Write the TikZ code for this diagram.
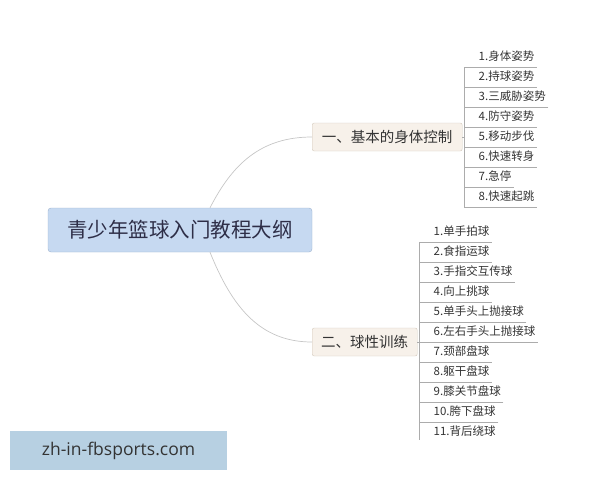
\documentclass[tikz,border=0pt]{standalone}
\usepackage{fontspec}
\setmainfont{Noto Sans CJK SC}
\newfontfamily\wmfont{Open Sans}
\usepackage{xcolor}
\usetikzlibrary{positioning,calc}

\definecolor{rootfill}{HTML}{C6D9F1}
\definecolor{rootline}{HTML}{9DB2CE}
\definecolor{subfill}{HTML}{F7F1EA}
\definecolor{subline}{HTML}{D3C9BC}
\definecolor{wmfill}{HTML}{B7D0E2}
\definecolor{txt}{HTML}{333333}

\tikzset{
    rootbox/.style={draw=rootline, fill=rootfill, rounded corners=3pt, text=txt!90!blue,
        font=\fontsize{20.5}{24}\selectfont, minimum width=264pt, minimum height=44pt},
    subbox/.style={draw=subline, fill=subfill, rounded corners=2pt, text=txt,
        font=\fontsize{14.5}{17}\selectfont, inner xsep=8pt, minimum height=28pt, anchor=west},
    leaf/.style={anchor=south west, inner xsep=2.5pt, inner ysep=4.5pt, text=txt,
        text height=9pt, text depth=2pt, font=\fontsize{11.5}{13}\selectfont},
    uline/.style={draw=gray!65, line width=0.8pt},
    curve/.style={draw=gray!45, line width=0.7pt}
}

\begin{document}
\begin{tikzpicture}[x=1pt,y=-1pt]
    \useasboundingbox (0,0) rectangle (600,480);

    % Main topic
    \node[rootbox] (root) at (180,230) {青少年篮球入门教程大纲};

    % Sub topics
    \node[subbox, minimum width=150pt] (b1) at (312,137) {一、基本的身体控制};
    \node[subbox, minimum width=105pt] (b2) at (312,342) {二、球性训练};

    % Curves from main topic
    \draw[curve] ([xshift=30pt]root.north) .. controls (232,165) and (260,137) .. (b1.west);
    \draw[curve] ([xshift=30pt]root.south) .. controls (232,307) and (260,342) .. (b2.west);

    % Leaves of branch 1
    \coordinate (ta) at (464,67);
    \foreach \t [count=\i] in {1.身体姿势, 2.持球姿势, 3.三威胁姿势, 4.防守姿势,
                               5.移动步伐, 6.快速转身, 7.急停, 8.快速起跳} {
        \node[leaf] (a\i) at (476,{47+20*\i}) {\t};
        \draw[uline] (a\i.south east) -- (a\i.south east -| ta);
    }
    \draw[uline] (ta) -- (a8.south east -| ta);
    \draw[uline] (b1.east) -- (b1.east -| ta);

    % Leaves of branch 2
    \coordinate (tb) at (419,242);
    \coordinate (tbend) at (419,440);
    \foreach \t [count=\i] in {1.单手拍球, 2.食指运球, 3.手指交互传球, 4.向上挑球,
                               5.单手头上抛接球, 6.左右手头上抛接球, 7.颈部盘球,
                               8.躯干盘球, 9.膝关节盘球, 10.胯下盘球} {
        \node[leaf] (c\i) at (431,{222+20*\i}) {\t};
        \draw[uline] (c\i.south east) -- (c\i.south east -| tb);
    }
    \node[leaf] (c11) at (431,442) {11.背后绕球};
    \draw[uline] (tb) -- (tbend);
    \draw[uline] (b2.east) -- (b2.east -| tb);

    % Watermark
    \node[fill=wmfill, minimum width=217pt, minimum height=39pt, inner sep=0pt,
          text=txt, font=\wmfont\fontsize{17.5}{20}\selectfont] (wm) at (118.5,450.5) {zh-in-fbsports.com};
\end{tikzpicture}
\end{document}
